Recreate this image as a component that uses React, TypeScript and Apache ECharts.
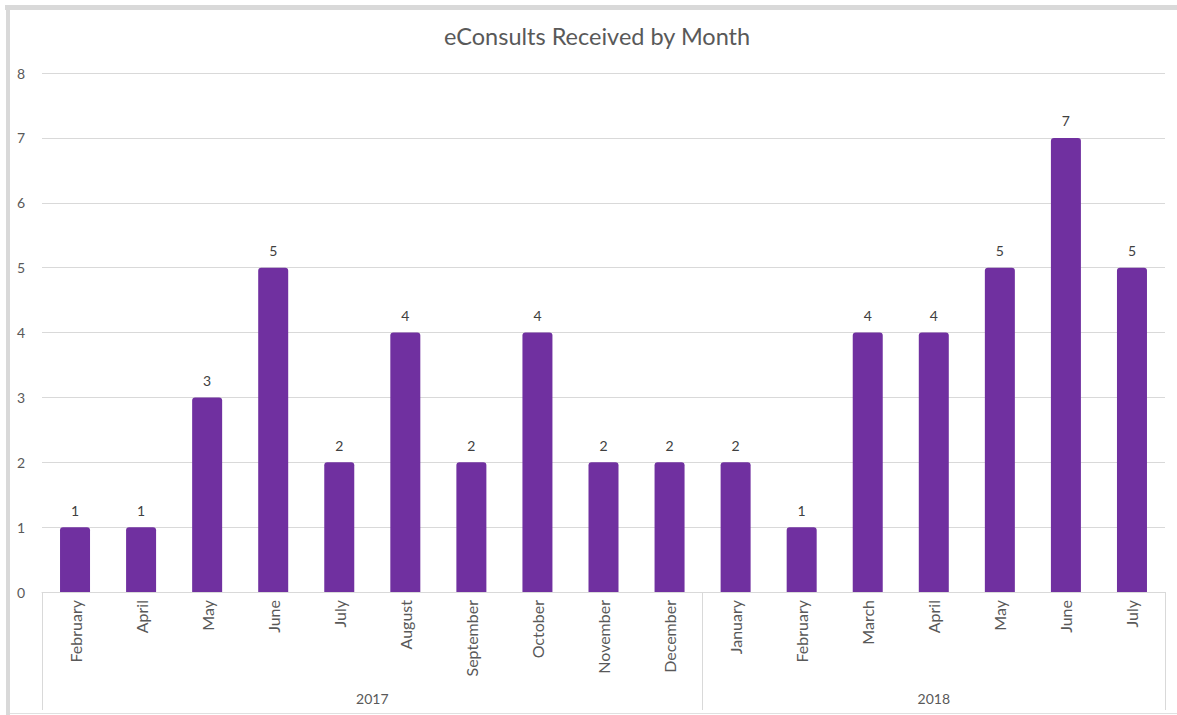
import React, { useEffect, useRef } from "react";
import * as echarts from "echarts";

const months = [
  "February", "April", "May", "June", "July", "August", "September", "October", "November", "December",
  "January", "February", "March", "April", "May", "June", "July",
];
const values = [1, 1, 3, 5, 2, 4, 2, 4, 2, 2, 2, 1, 4, 4, 5, 7, 5];
const years = ["2017", "2018"];
const yearCounts = [10, 7];
const yTicks = { min: 0, max: 8, interval: 1 };

export default function App() {
  const ref = useRef<HTMLDivElement>(null);
  useEffect(() => {
    document.body.style.margin = "0";
    const chart = echarts.init(ref.current!, null, { renderer: "svg" });
    const boundaries: number[] = [0];
    let acc = 0;
    yearCounts.forEach((c) => { acc += c; boundaries.push(acc); });
    const yearCenters = yearCounts.map((c, i) => boundaries[i] + c / 2);
    const font = "Lato, 'Open Sans', sans-serif";
    chart.setOption({
      animation: false,
      textStyle: { fontFamily: font },
      title: {
        text: "eConsults Received by Month",
        left: 439,
        top: 19,
        textStyle: { fontSize: 23.5, fontWeight: "normal", color: "#595959", fontFamily: font },
      },
      grid: { left: 42, right: 12, top: 73, bottom: 123, containLabel: false },
      xAxis: [
        {
          type: "category",
          data: months,
          axisLine: { show: true, lineStyle: { color: "#d9d9d9", width: 1 } },
          axisTick: {
            show: true,
            length: 118,
            interval: (i: number) => boundaries.indexOf(i) >= 0,
            lineStyle: { color: "#d9d9d9", width: 1 },
          },
          axisLabel: { rotate: 90, interval: 0, margin: 8, fontSize: 16, color: "#595959", fontFamily: font },
        },
        {
          type: "value",
          position: "bottom",
          offset: 91,
          min: 0,
          max: acc,
          interval: 0.5,
          axisLine: { show: false },
          axisTick: { show: false },
          splitLine: { show: false },
          axisLabel: {
            margin: 8,
            fontSize: 14,
            color: "#595959",
            fontFamily: font,
            showMinLabel: true,
            showMaxLabel: true,
            formatter: (v: number) => {
              const idx = yearCenters.findIndex((c) => Math.abs(c - v) < 1e-6);
              return idx >= 0 ? years[idx] : "";
            },
          },
        },
      ],
      yAxis: {
        type: "value",
        min: yTicks.min,
        max: yTicks.max,
        interval: yTicks.interval,
        axisLine: { show: false },
        axisTick: { show: false },
        axisLabel: { margin: 17, fontSize: 14, color: "#595959", fontFamily: font },
        splitLine: { lineStyle: { color: "#d9d9d9", width: 1 } },
      },
      series: [
        {
          type: "bar",
          xAxisIndex: 0,
          data: values,
          barWidth: 30,
          itemStyle: { color: "#7030A0", borderRadius: [3, 3, 0, 0] },
          label: { show: true, position: "top", distance: 10, fontSize: 14, color: "#404040", fontFamily: font },
        },
      ],
      graphic: [
        { type: "rect", shape: { x: 5, y: 5, width: 1172, height: 5 }, style: { fill: "#d9d9d9" }, silent: true },
        { type: "rect", shape: { x: 6, y: 5, width: 4, height: 710 }, style: { fill: "#d9d9d9" }, silent: true },
        { type: "line", shape: { x1: 10, y1: 713.5, x2: 1177, y2: 713.5 }, style: { stroke: "#e0e0e0", lineWidth: 1 }, silent: true },
      ],
    });
    return () => chart.dispose();
  }, []);
  return <div ref={ref} style={{ width: 1177, height: 715 }} />;
}
